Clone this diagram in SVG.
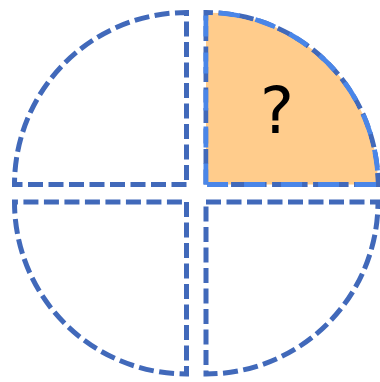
<svg xmlns="http://www.w3.org/2000/svg" width="380" height="382" viewBox="0 0 380 382">
  <style>
    .q { fill: none; stroke: #4169BA; stroke-width: 5; stroke-dasharray: 15 5.5; }
    .hl { fill: none; stroke: #4A86E8; stroke-width: 5; stroke-dasharray: 21 16; }
    .qt { font-family: "DejaVu Sans", "Liberation Sans", sans-serif; font-size: 64px; fill: #000; text-anchor: middle; }
  </style>
  <rect width="380" height="382" fill="#fff"/>
  <g id="quarter-top-left">
    <path class="q" d="M186.5,184.5 L14.5,184.5 A172,172 0 0 1 186.5,12.5 Z"/>
  </g>
  <g id="quarter-top-right">
    <path d="M206,184.5 L206,12.5 A172,172 0 0 1 378,184.5 Z" fill="#FFCC8C"/>
    <path class="q" d="M206,184.5 L206,12.5 A172,172 0 0 1 378,184.5 Z"/>
    <path class="hl" d="M206,184.5 L206,12.5 A172,172 0 0 1 378,184.5 Z"/>
    <path d="M208.5,182 L208.5,15 A169.5,169.5 0 0 1 375.5,182 Z" fill="#FFCC8C"/>
    <text class="qt" x="277" y="133">?</text>
  </g>
  <g id="quarter-bottom-left">
    <path class="q" d="M186.5,202 L186.5,374 A172,172 0 0 1 14.5,202 Z"/>
  </g>
  <g id="quarter-bottom-right">
    <path class="q" d="M206,202 L378,202 A172,172 0 0 1 206,374 Z"/>
  </g>
  <g id="connectors"></g>
</svg>
